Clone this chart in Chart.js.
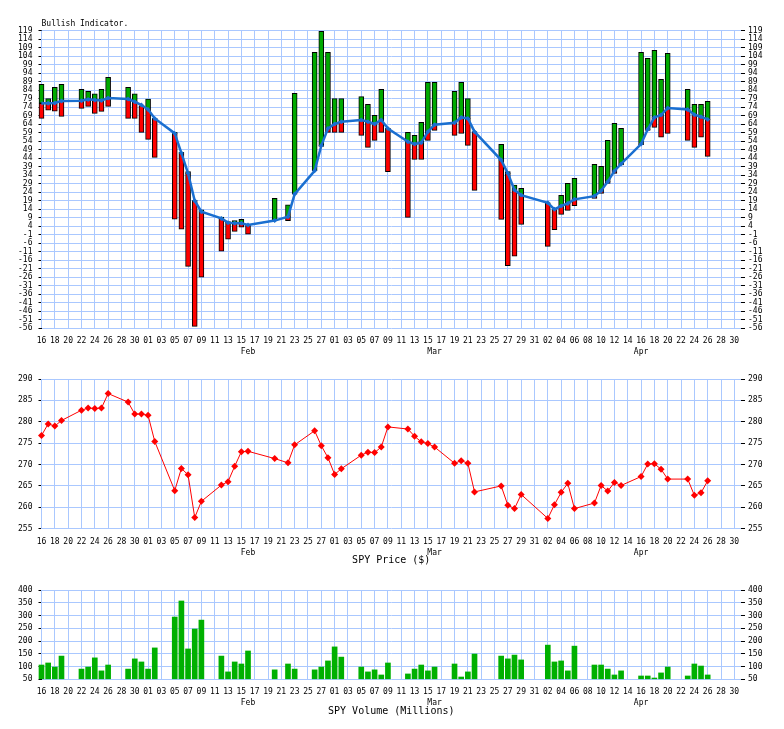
<!DOCTYPE html>
<html>
<head>
<meta charset="utf-8">
<title>Bullish Indicator</title>
<script src="https://cdn.jsdelivr.net/npm/chart.js@4"></script>
<style>
body{margin:0;background:#fff;}
canvas{position:absolute;left:0;}
</style>
</head>
<body>
<canvas id="bullChart" width="784" height="365" style="top:0px"></canvas>
<canvas id="priceChart" width="784" height="205" style="top:365px"></canvas>
<canvas id="volumeChart" width="784" height="159" style="top:570px"></canvas>
<script>

const dates=["2018-01-16","2018-01-17","2018-01-18","2018-01-19","2018-01-22","2018-01-23","2018-01-24","2018-01-25","2018-01-26","2018-01-29","2018-01-30","2018-01-31",
"2018-02-01","2018-02-02","2018-02-05","2018-02-06","2018-02-07","2018-02-08","2018-02-09","2018-02-12","2018-02-13","2018-02-14","2018-02-15","2018-02-16","2018-02-20","2018-02-22","2018-02-23","2018-02-26","2018-02-27","2018-02-28",
"2018-03-01","2018-03-02","2018-03-05","2018-03-06","2018-03-07","2018-03-08","2018-03-09","2018-03-12","2018-03-13","2018-03-14","2018-03-15","2018-03-16","2018-03-19","2018-03-20","2018-03-21","2018-03-22","2018-03-26","2018-03-27","2018-03-28","2018-03-29",
"2018-04-02","2018-04-03","2018-04-04","2018-04-05","2018-04-06","2018-04-09","2018-04-10","2018-04-11","2018-04-12","2018-04-13","2018-04-16","2018-04-17","2018-04-18","2018-04-19","2018-04-20","2018-04-23","2018-04-24","2018-04-25","2018-04-26"];

// bullish indicator: daily high / low and the moving average (blue line)
const bullHigh=[87.4,79.0,85.7,87.4,84.5,83.3,81.9,84.5,91.5,85.7,81.9,75.0,
78.8,67.4,59.2,47.4,36.1,19.1,13.6,9.3,6.7,7.3,8.1,4.7,20.4,16.5,82.1,106.3,118.6,106.3,
79.0,79.0,80.2,75.7,69.2,84.5,61.5,59.2,57.4,65.1,88.6,88.6,83.3,88.6,79.0,59.6,52.1,36.1,28.2,26.3,
17.8,13.9,22.1,29.2,32.2,40.4,39.2,54.5,64.5,61.5,106.3,102.7,107.4,90.4,105.7,84.5,75.7,75.7,77.4];
const bullLow=[67.4,72.3,71.7,68.6,73.3,74.5,70.4,71.5,74.5,67.4,67.4,59.2,
55.1,44.5,8.1,2.2,-19.6,-54.9,-26.0,-10.7,-3.7,1.0,3.4,-0.7,7.3,7.3,22.9,36.6,51.0,59.2,
59.2,59.2,57.4,50.4,54.5,59.2,36.1,9.2,43.3,43.3,54.5,60.4,57.4,58.6,51.5,25.1,8.0,-19.2,-13.7,5.1,
-7.9,2.0,11.0,13.3,16.1,20.4,23.3,29.2,35.1,40.0,52.0,60.4,62.1,56.3,58.6,54.5,50.4,56.3,45.1];
const bullAvg=[76.3,76.3,76.5,77.7,77.8,78.6,78.2,78.0,79.4,78.8,77.2,75.3,
72.7,67.4,58.6,47.0,35.1,19.0,12.5,8.6,6.1,5.7,5.7,4.7,7.3,9.6,22.9,36.6,51.4,61.5,
64.1,65.5,66.5,65.5,64.1,66.5,61.5,53.7,52.3,53.1,59.6,63.7,64.9,68.0,67.4,59.6,42.9,35.1,25.3,22.3,
17.8,13.9,15.9,17.4,19.8,21.7,24.9,30.2,36.5,40.6,52.3,61.0,68.0,69.4,73.5,72.7,69.6,68.4,66.8];

const spyPrice=[276.8,279.5,279.0,280.3,282.7,283.2,283.1,283.2,286.6,284.6,281.8,281.8,
281.5,275.4,263.9,269.1,267.6,257.6,261.4,265.2,266.0,269.6,273.0,273.1,271.4,270.4,274.6,277.9,274.4,271.6,
267.7,269.0,272.2,272.9,272.8,274.1,278.8,278.3,276.6,275.3,274.9,274.1,270.3,270.9,270.3,263.6,265.0,260.5,259.7,263.0,
257.4,260.6,263.5,265.6,259.7,261.0,265.1,263.8,265.8,265.1,267.2,270.1,270.2,268.9,266.6,266.6,262.8,263.4,266.2];

const spyVolume=[106,114,98,141,90,98,134,83,106,90,130,118,
90,173,294,357,169,247,282,141,79,118,110,161,87,110,90,87,98,122,
177,137,98,79,87,67,114,71,90,106,83,98,110,59,79,149,141,130,145,126,
184,118,122,83,180,106,106,90,67,83,63,63,55,75,98,63,110,102,67];

const bullTicks=[-56,-51,-46,-41,-36,-31,-26,-21,-16,-11,-6,-1,4,9,14,19,24,29,34,39,44,49,54,59,64,69,74,79,84,89,94,99,104,109,114,119];
const priceTicks=[255,260,265,270,275,280,285,290];
const volumeTicks=[50,100,150,200,250,300,350,400];
const months=["Feb","Mar","Apr"];
const monthMid=["2018-02-16","2018-03-16","2018-04-16"];

const start=Date.UTC(2018,0,16);
const lastDay=105;

function dayNum(s){
return Math.round((Date.parse(s)-start)/864e5);
}
function dayLabel(v){
let d=new Date(start+v*864e5);
return String(d.getUTCDate()).padStart(2,"0");
}

const gridColor="#aac8ff";
const tickFont={family:"DejaVu Sans Mono",size:8};

const extraText={
id:"extraText",
afterDraw(chart,args,opts){
let ctx=chart.ctx, a=chart.chartArea, x=chart.scales.x;
ctx.save();
ctx.fillStyle="#000";
ctx.textBaseline="middle";
ctx.font="8px 'DejaVu Sans Mono'";
ctx.textAlign="center";
months.forEach((m,i)=>{
ctx.fillText(m,x.getPixelForValue(dayNum(monthMid[i])),a.bottom+24);
});
if(opts.title){
ctx.textAlign="left";
ctx.fillText(opts.title,a.left,a.top-7);
}
if(opts.caption){
ctx.font="10px 'DejaVu Sans Mono'";
ctx.textAlign="center";
ctx.fillText(opts.caption,(a.left+a.right)/2,a.bottom+32);
}
ctx.restore();
}
};

function xAxis(height){
return {
type:"linear",min:0,max:lastDay,offset:false,
afterBuildTicks:s=>{
s.ticks=[];
for(let v=0;v<lastDay;v+=2) s.ticks.push({value:v});
},
afterFit:s=>{s.height=height;},
grid:{color:gridColor,lineWidth:1,drawTicks:false,offset:false},
border:{display:false},
ticks:{font:tickFont,color:"#000",padding:8,autoSkip:false,maxRotation:0,callback:v=>dayLabel(v)}
};
}

function yAxes(values){
let common={
min:values[0],max:values[values.length-1],
afterBuildTicks:s=>{s.ticks=values.map(v=>({value:v}));},
border:{display:false},
ticks:{font:tickFont,color:"#000",autoSkip:false}
};
return {
y:Object.assign({},common,{
position:"left",
afterFit:s=>{s.width=41.5;},
grid:{color:gridColor,lineWidth:1,tickColor:"#000",tickLength:3},
ticks:Object.assign({},common.ticks,{padding:6})
}),
y2:Object.assign({},common,{
position:"right",
afterFit:s=>{s.width=43;},
grid:{drawOnChartArea:false,tickColor:"#000",tickLength:4},
ticks:Object.assign({},common.ticks,{padding:3})
})
};
}

function baseOptions(xHeight,padTop,values,text){
let scales=yAxes(values);
scales.x=xAxis(xHeight);
return {
responsive:false,
animation:false,
devicePixelRatio:1,
layout:{padding:{top:padTop,left:0,right:0,bottom:0}},
scales:scales,
plugins:{legend:{display:false},tooltip:{enabled:false},extraText:text}
};
}

let days=dates.map(dayNum);

let greenParts=[];
let redParts=[];
days.forEach((d,i)=>{
let hi=bullHigh[i], lo=bullLow[i], avg=bullAvg[i];
if(hi>avg) greenParts.push({x:d,y:[Math.max(lo,avg),hi]});
if(lo<avg) redParts.push({x:d,y:[lo,Math.min(hi,avg)]});
});

new Chart(document.getElementById("bullChart"),{
type:"bar",
data:{
datasets:[{
type:"line",
data:days.map((d,i)=>({x:d,y:bullAvg[i]})),
borderColor:"#1a6fd0",
borderWidth:2.5,
pointStyle:"rectRot",
pointRadius:2.5,
pointBackgroundColor:"#1a6fd0",
pointBorderWidth:0,
tension:0,
order:0
},{
data:greenParts,
backgroundColor:"#00aa00",
borderColor:"#000",
borderWidth:1,
borderSkipped:false,
barThickness:5,
grouped:false,
clip:false,
order:1
},{
data:redParts,
backgroundColor:"#ff0000",
borderColor:"#000",
borderWidth:1,
borderSkipped:false,
barThickness:5,
grouped:false,
clip:false,
order:1
}]
},
options:baseOptions(365-328.2,30.7,bullTicks,{title:"Bullish Indicator."}),
plugins:[extraText]
});

new Chart(document.getElementById("priceChart"),{
type:"line",
data:{
datasets:[{
data:days.map((d,i)=>({x:d,y:spyPrice[i]})),
borderColor:"#ff0000",
borderWidth:1,
pointStyle:"rectRot",
pointRadius:3.5,
pointBackgroundColor:"#ff0000",
pointBorderColor:"#ff0000",
pointBorderWidth:0,
tension:0,
clip:false
}]
},
options:baseOptions(205-163.7,14,priceTicks,{caption:"SPY Price ($)"}),
plugins:[extraText]
});

new Chart(document.getElementById("volumeChart"),{
type:"bar",
data:{
datasets:[{
data:days.map((d,i)=>({x:d,y:spyVolume[i]})),
backgroundColor:"#00b000",
borderWidth:0,
barThickness:5,
base:volumeTicks[0],
clip:false
}]
},
options:baseOptions(159-109.3,20,volumeTicks,{caption:"SPY Volume (Millions)"}),
plugins:[extraText]
});

</script>
</body>
</html>
